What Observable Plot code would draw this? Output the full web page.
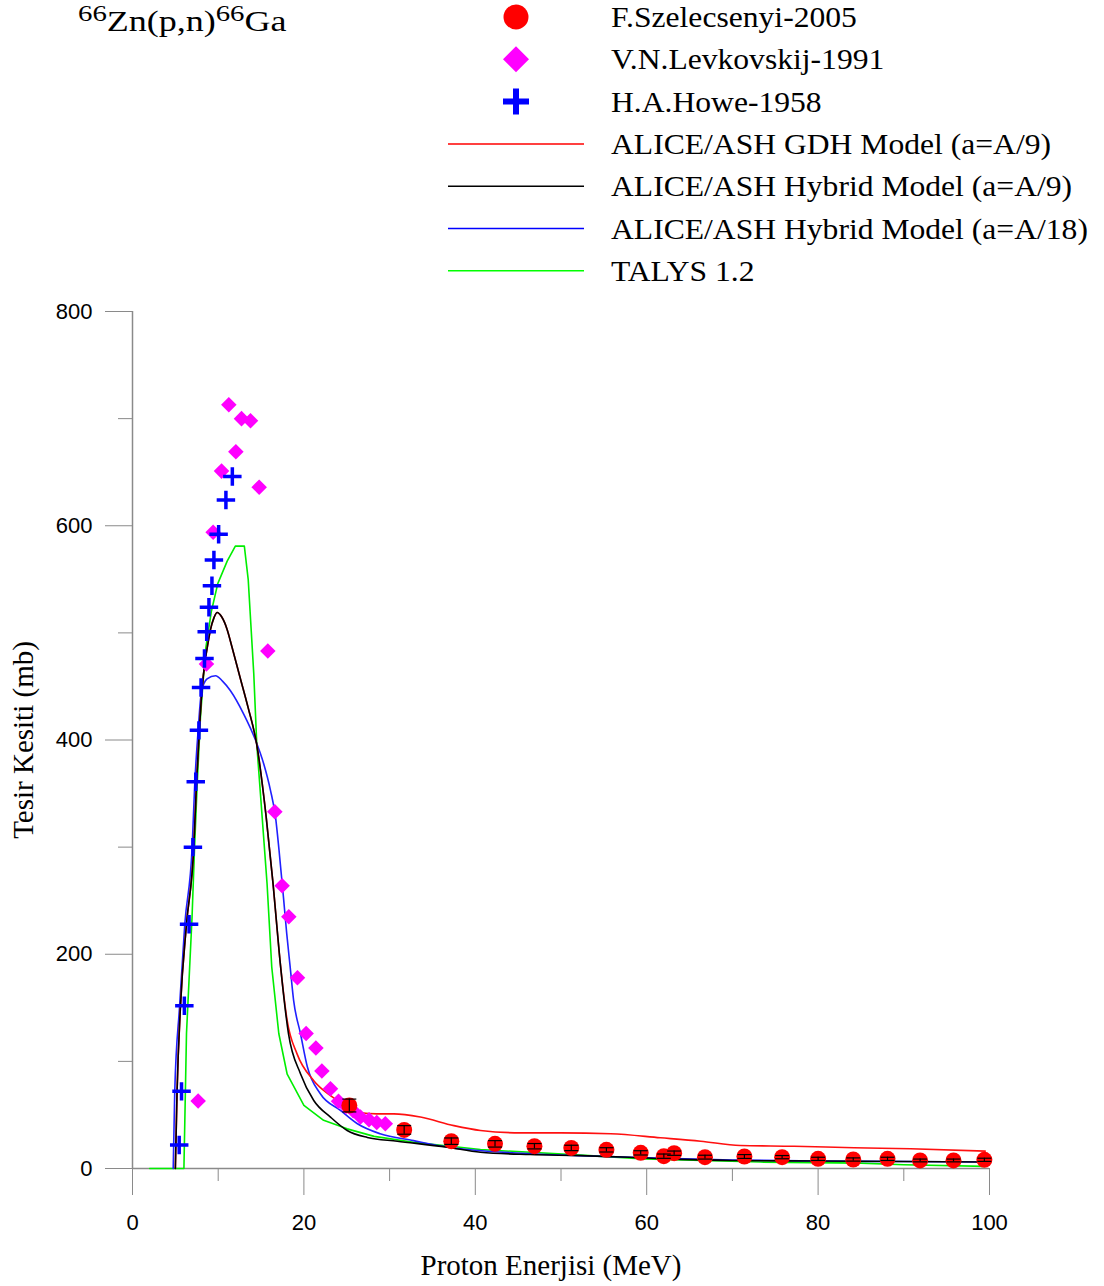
<!DOCTYPE html>
<html>
<head>
<meta charset="utf-8">
<script src="https://cdn.jsdelivr.net/npm/d3@7"></script>
<script src="https://cdn.jsdelivr.net/npm/@observablehq/plot@0.6"></script>
<style>
  body { margin: 0; background: white; }
  #top { position: relative; width: 1104px; height: 291px; }
  #chart svg [aria-label="y-axis label"] text { font-family: "Liberation Serif", "Times New Roman", serif; font-size: 29px; }
</style>
</head>
<body>
<div id="top"></div>
<div id="chart"></div>
<script>
// ---- Data ----
// F.Szelecsenyi-2005
const szE   = [25.3, 31.7, 37.2, 42.3, 46.9, 51.2, 55.3, 59.3, 62.0, 63.2, 66.8, 71.4, 75.8, 80.0, 84.1, 88.1, 91.9, 95.8, 99.4];
const szS   = [58.8, 36, 25.5, 23, 20.8, 19.2, 17.4, 14.6, 11.5, 14.3, 10.6, 11.2, 10.6, 9, 8.4, 9, 7.5, 7.5, 8.1];
const szErr = [6, 4, 3, 3, 2.5, 2.5, 2, 2, 2, 2, 1.8, 1.8, 1.5, 1.5, 1.5, 1.5, 1.3, 1.3, 1.5];
// V.N.Levkovskij-1991
const lvE = [7.66, 8.63, 9.41, 10.39, 11.24, 12.06, 12.72, 13.77, 14.78, 15.79, 16.61, 17.46, 18.24, 19.25, 20.26, 21.4, 22.1, 23.1, 24.04, 24.9, 25.75, 26.6, 27.6, 28.5, 29.5];
const lvS = [63, 471, 594, 651, 713, 669, 700, 698, 636, 483, 333, 264, 235, 178, 126, 112.5, 91, 74.4, 62.8, 58, 54, 48, 45.5, 43, 41.7];
// H.A.Howe-1958
const hwE = [5.45, 5.72, 6.05, 6.6, 7.05, 7.38, 7.75, 8.0, 8.4, 8.66, 8.92, 9.27, 9.5, 10.05, 10.9, 11.65];
const hwS = [22, 72, 152, 228, 300, 361, 409, 449, 476, 501, 524, 544, 568, 592, 624, 646];
// ALICE/ASH GDH Model (a=A/9)
const gdhE = [5.0, 5.2, 5.6, 6.3, 7.15, 7.47, 7.8, 8.13, 8.5, 8.8, 9.1, 9.5, 9.88, 10.4, 11.05, 11.6, 12.6, 13.5, 14.47, 15.6, 16.4, 17.2, 18.05, 19.2, 21.15, 23.1, 25.05, 26.6, 28.5, 30.5, 33.6, 37.5, 40.6, 45.3, 50, 55.8, 61.6, 66.3, 70.9, 77.2, 84.2, 90.8, 99.5];
const gdhS = [0, 72, 152, 228, 300, 360, 409, 449, 475, 490, 503, 514, 519, 515, 503, 487, 457, 430, 397, 328, 266, 195, 138, 107, 82, 68, 58, 52, 51, 51, 48, 40, 35.5, 33.3, 33.3, 32.4, 28.7, 25.5, 21.5, 20.8, 19.3, 18.4, 16.2];
// ALICE/ASH Hybrid Model (a=A/9)
const hy9E = [5.0, 5.2, 5.6, 6.3, 7.15, 7.47, 7.8, 8.13, 8.5, 8.8, 9.1, 9.5, 9.88, 10.4, 11.05, 11.6, 12.6, 13.5, 14.47, 15.6, 16.4, 17.2, 18.2, 19.6, 21.15, 23.1, 25.05, 27.4, 30.9, 36.7, 40.6, 46.4, 52.3, 58, 64, 70, 80, 90, 99.5];
const hy9S = [0, 72, 152, 228, 300, 360, 409, 449, 475, 490, 503, 514, 519, 515, 503, 487, 457, 430, 397, 328, 266, 195, 126, 88.5, 63.5, 48, 35.5, 29, 25.5, 19.9, 15.2, 13, 12, 10.5, 8.5, 7.5, 7, 6.5, 6];
// ALICE/ASH Hybrid Model (a=A/18)
const hy18E = [4.75, 4.93, 5.5, 6.1, 6.96, 7.27, 7.66, 8.05, 8.7, 9.69, 10.5, 11.43, 12.99, 14.35, 15.3, 16.1, 16.69, 17.1, 17.65, 18.0, 18.4, 18.8, 19.6, 20.4, 21.9, 24.3, 26.2, 28.9, 32.8, 36, 40, 46, 52, 60, 70, 80, 90, 99.5];
const hy18S = [0, 72, 152, 228, 300, 360, 409, 445, 457, 460, 455, 446, 424, 400, 378, 353, 328, 297, 250, 219, 188, 157, 126, 95, 70, 54, 42, 32.4, 26, 21, 17, 14, 12, 10, 8, 7, 6.5, 6];
// TALYS 1.2
const talE = [2.0, 6.0, 6.3, 6.95, 7.23, 7.55, 7.93, 8.5, 9.2, 9.95, 11.05, 12.0, 13.05, 13.5, 14.15, 14.5, 15.13, 15.7, 16.25, 17.07, 18.05, 20.0, 22.3, 25.05, 28.2, 32.8, 40.6, 52.3, 59.7, 73.3, 85, 90, 99.5];
const talS = [0, 0, 126, 235, 297, 359, 421, 483, 520, 546, 567, 581, 581, 550, 462, 396, 328, 266, 188, 126, 88, 59, 45, 37, 30, 24.5, 17.7, 12.5, 9, 6, 5, 3.5, 2];

const xTicksMajor = [0, 20, 40, 60, 80, 100];
const xTicksMinor = [10, 30, 50, 70, 90];
const yTicksMajor = [0, 200, 400, 600, 800];
const yTicksMinor = [100, 300, 500, 700];
const xLabel = "Proton Enerjisi (MeV)";
const yLabel = "Tesir Kesiti (mb)";

const legendNames = ["F.Szelecsenyi-2005", "V.N.Levkovskij-1991", "H.A.Howe-1958",
  "ALICE/ASH GDH Model (a=A/9)", "ALICE/ASH Hybrid Model (a=A/9)", "ALICE/ASH Hybrid Model (a=A/18)", "TALYS 1.2"];
const legendKinds = ["circle", "diamond", "plus", "line", "line", "line", "line"];
const legendColors = ["#ff0000", "#ff00ff", "#0000ff", "#ff0000", "#000000", "#0000ff", "#00ff00"];

const zip = (xs, ys) => xs.map((x, i) => ({x, y: ys[i]}));
const sz = szE.map((x, i) => ({x, y: szS[i], lo: szS[i] - szErr[i], hi: szS[i] + szErr[i]}));

// ---- Legend and title ----
const head = d3.select("#top").append("svg").attr("width", 1104).attr("height", 291)
  .style("font-family", "'Liberation Serif', 'Times New Roman', serif");
const title = head.append("text").attr("transform", "translate(78,31) scale(1.2,1)").attr("font-size", 30).attr("fill", "black");
title.append("tspan").attr("font-size", 24).attr("dy", -10).text("66");
title.append("tspan").attr("dy", 10).text("Zn(p,n)");
title.append("tspan").attr("font-size", 24).attr("dy", -10).text("66");
title.append("tspan").attr("dy", 10).text("Ga");

legendNames.forEach((name, i) => {
  const cy = 17 + i * 42.3;
  const g = head.append("g");
  const k = legendKinds[i], c = legendColors[i];
  if (k === "circle") g.append("ellipse").attr("cx", 516).attr("cy", cy).attr("rx", 12.5).attr("ry", 12.5).attr("fill", c);
  else if (k === "diamond") g.append("path").attr("d", `M516,${cy-13}L529,${cy}L516,${cy+13}L503,${cy}Z`).attr("fill", c);
  else if (k === "plus") g.append("path").attr("d", `M516,${cy-13}V${cy+13}M503,${cy}H529`).attr("stroke", c).attr("stroke-width", 6).attr("fill", "none");
  else g.append("line").attr("x1", 448).attr("x2", 584).attr("y1", cy).attr("y2", cy).attr("stroke", c).attr("stroke-width", 1.5);
  g.append("text").attr("transform", `translate(611,${cy}) scale(1.09,1)`).attr("dy", "0.35em").attr("font-size", 29).attr("fill", "black").text(name);
});

// ---- Chart ----
const capSymbol = { draw(context) { context.moveTo(-7, 0); context.lineTo(7, 0); } };
const axisGrey = "#8a8a8a";

const chart = Plot.plot({
  width: 1104,
  height: 995,
  marginTop: 20,
  marginBottom: 118,
  marginLeft: 132,
  marginRight: 115,
  x: {domain: [0, 100]},
  y: {domain: [0, 800]},
  style: {fontFamily: "'Liberation Sans', Arial, sans-serif", fontSize: "22px", color: "black", background: "white", overflow: "visible"},
  marks: [
    Plot.axisX({ticks: xTicksMajor, tickSize: 27, tickPadding: 19, stroke: axisGrey, fill: "black", label: null}),
    Plot.axisX({ticks: xTicksMinor, tickSize: 13, stroke: axisGrey, tickFormat: () => "", label: null}),
    Plot.text([xLabel], {text: d => d, frameAnchor: "bottom", dx: -10, dy: 106,
      fontFamily: "'Liberation Serif', 'Times New Roman', serif", fontSize: 29, fill: "black"}),
    Plot.axisY({ticks: yTicksMajor, tickSize: 27, tickPadding: 13, stroke: axisGrey, fill: "black",
      label: yLabel, labelAnchor: "center", labelOffset: 120, labelArrow: "none"}),
    Plot.axisY({ticks: yTicksMinor, tickSize: 14, stroke: axisGrey, tickFormat: () => "", label: null}),
    Plot.ruleX([0], {stroke: axisGrey, strokeWidth: 1.5}),
    Plot.ruleY([0], {stroke: axisGrey, strokeWidth: 1.5}),
    Plot.line(zip(talE, talS), {x: "x", y: "y", stroke: "#00ee00", strokeWidth: 1.6}),
    Plot.line(zip(hy18E, hy18S), {x: "x", y: "y", stroke: "#2020ff", strokeWidth: 1.6, curve: "monotone-x"}),
    Plot.line(zip(gdhE, gdhS), {x: "x", y: "y", stroke: "#ff1010", strokeWidth: 1.6, curve: "monotone-x"}),
    Plot.line(zip(hy9E, hy9S), {x: "x", y: "y", stroke: "#000000", strokeWidth: 1.6, curve: "monotone-x"}),
    Plot.dot(zip(lvE, lvS), {x: "x", y: "y", symbol: "diamond2", r: 7, fill: "#ff00ff", stroke: "none"}),
    Plot.dot(zip(hwE, hwS), {x: "x", y: "y", symbol: "plus", r: 6, stroke: "#0000ff", strokeWidth: 3.5}),
    Plot.dot(sz, {x: "x", y: "y", r: 8, fill: "#ff0000", stroke: "none"}),
    Plot.ruleX(sz, {x: "x", y1: "lo", y2: "hi", stroke: "black", strokeWidth: 1.2}),
    Plot.dot(sz, {x: "x", y: "lo", symbol: capSymbol, stroke: "black", strokeWidth: 1.2}),
    Plot.dot(sz, {x: "x", y: "hi", symbol: capSymbol, stroke: "black", strokeWidth: 1.2})
  ]
});
document.getElementById("chart").appendChild(chart);
</script>
</body>
</html>
